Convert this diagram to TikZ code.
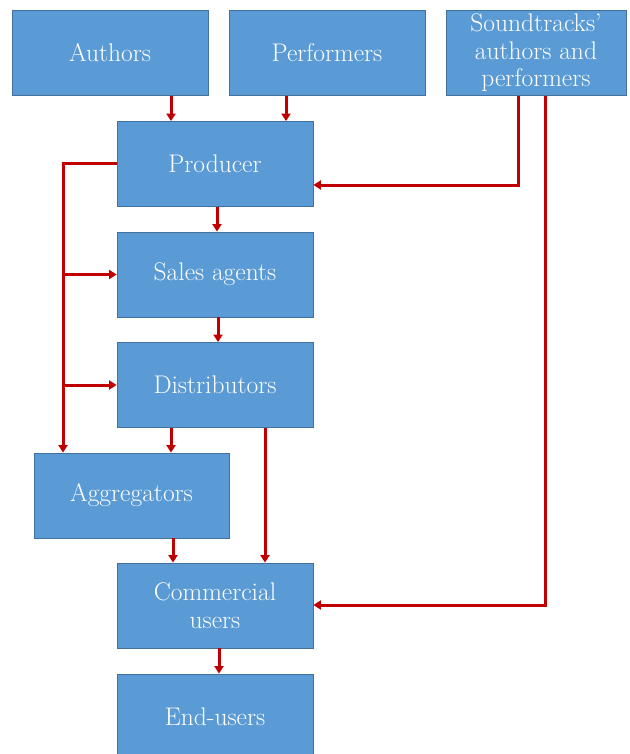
\documentclass[tikz,border=0pt]{standalone}
\usetikzlibrary{arrows.meta}
\definecolor{boxfill}{HTML}{5B9BD5}
\definecolor{boxline}{HTML}{41719C}
\definecolor{flow}{HTML}{C00000}
\begin{document}
\begin{tikzpicture}[x=1pt,y=-1pt,
  box/.style={draw=boxline, line width=0.8pt, fill=boxfill, text=white,
    inner sep=0pt, align=center, minimum height=85pt,
    font=\fontsize{25.5}{27.5}\selectfont},
  arr/.style={draw=flow, line width=3pt, line join=miter,
    -{Triangle[length=7.5pt,width=9pt]}},
]
\useasboundingbox (0,0) rectangle (629,754);

% boxes
\node[box, minimum width=196pt] (authors)    at (110,53)    {Authors};
\node[box, minimum width=196pt] (performers) at (327,53)    {Performers};
\node[box, minimum width=180pt] (sound)      at (536,53)    {Soundtracks\textquoteright\\authors and\\performers};
\node[box, minimum width=196pt] (producer)   at (215,164)   {Producer};
\node[box, minimum width=196pt] (sales)      at (215,274.5) {Sales agents};
\node[box, minimum width=196pt] (distrib)    at (215,385)   {Distributors};
\node[box, minimum width=195pt] (aggreg)     at (131.5,495.5) {Aggregators};
\node[box, minimum width=196pt] (commercial) at (215,605.5) {Commercial\\users};
\node[box, minimum width=196pt] (endusers)   at (215,716.5) {End-users};

% connector columns and corners
\coordinate (cA) at (171,0);
\coordinate (cP) at (286,0);
\coordinate (cPS) at (217,0);
\coordinate (cSD) at (218,0);
\coordinate (cDA) at (171,0);
\coordinate (cDC) at (265,0);
\coordinate (cAC) at (173,0);
\coordinate (cCE) at (219,0);
\coordinate (bus) at (63,164);
\coordinate (sA) at (518,185);
\coordinate (sB) at (545,605);

% straight flows
\draw[arr] (cA |- authors.south)    -- (cA |- producer.north);
\draw[arr] (cP |- performers.south) -- (cP |- producer.north);
\draw[arr] (cPS |- producer.south)  -- (cPS |- sales.north);
\draw[arr] (cSD |- sales.south)     -- (cSD |- distrib.north);
\draw[arr] (cDA |- distrib.south)   -- (cDA |- aggreg.north);
\draw[arr] (cDC |- distrib.south)   -- (cDC |- commercial.north);
\draw[arr] (cAC |- aggreg.south)    -- (cAC |- commercial.north);
\draw[arr] (cCE |- commercial.south) -- (cCE |- endusers.north);

% producer bus on the left
\draw[arr] (producer.west |- bus) -- (bus) -- (bus |- aggreg.north);
\draw[arr] (bus |- sales.west)   -- (sales.west);
\draw[arr] (bus |- distrib.west) -- (distrib.west);

% soundtrack rights
\draw[arr] (sound.south -| sA) -- (sA) -- (producer.east |- sA);
\draw[arr] (sound.south -| sB) -- (sB) -- (commercial.east |- sB);
\end{tikzpicture}
\end{document}
